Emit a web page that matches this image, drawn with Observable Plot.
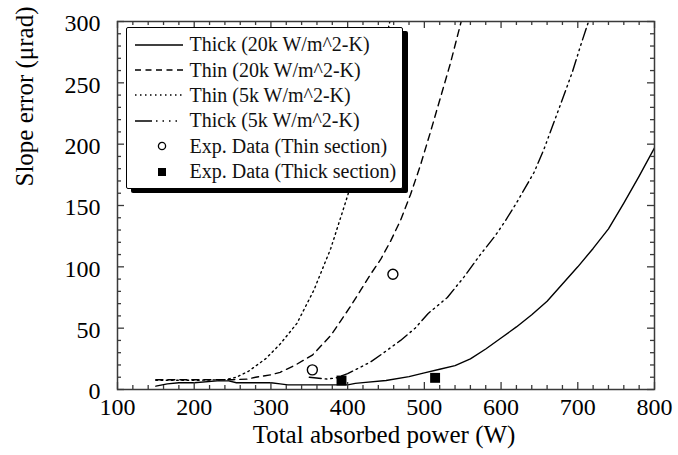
<!DOCTYPE html>
<html><head><meta charset="utf-8">
<script src="https://cdn.jsdelivr.net/npm/d3@7"></script>
<script src="https://cdn.jsdelivr.net/npm/@observablehq/plot@0.6"></script>
<style>
body{margin:0;background:#fff;}
#wrap{position:relative;width:678px;height:455px;font-family:"Liberation Serif","Times New Roman",serif;}
#legend{position:absolute;left:126px;top:27px;width:277px;height:162px;background:#fff;border:1.5px solid #000;box-shadow:5px 4px 0 #000;border-radius:2px;box-sizing:border-box;padding-top:4px;}
.row{display:flex;align-items:center;height:25.4px;font-size:20px;color:#111;white-space:nowrap;}
.row svg{margin-left:7.5px;margin-right:7px;flex:none;}
</style></head><body><div id="wrap"></div>
<script>
// ---- data ----
const thick20kX = [150,165,180,200,230,245,255,300,312,322,350,400,410,420,450,480,500,520,540,560,580,600,620,640,660,680,700,720,740,760,780,800];
const thick20kY = [2.7,4.6,5.5,5.5,7,7,5.5,5.5,4.6,3.8,3.8,3.8,5,5.6,7.3,10.5,13.5,16.5,19.5,25,33,42,51,61,72,86,100,115,131,152,174,197];

const thin20kX = [150,200,250,270,280,300,312,332,354,366,378,391,404,417,430,443,456,469,482,495,508,521,534,548];
const thin20kY = [8,8,8,8.5,10,12,14,20,28,36,44,56,68,81,94,106,121,138,159,183,210,238,266,300];

const thin5kX = [150,200,240,255,271,293,312,334,356,378,400,420,440,455];
const thin5kY = [7.5,7.5,8,10,15,25,37,54,81,115,158,205,258,300];

const thick5kX = [350,373,385,400,413,430,447,469,488,505,530,552,573,592,604,620,643,656,669,682,693,704,714];
const thick5kY = [10,8.5,9.5,13,17,22.5,30,40,50,62,75,92,110,125,136,152,177,196,218,240,259,281,300];

const expThinX = [354,459];
const expThinY = [16,94];
const expThickX = [392,514];
const expThickY = [7.3,9.5];

const xMajor = [100,200,300,400,500,600,700,800];
const yMajor = [0,50,100,150,200,250,300];
const xMinor = d3.range(100, 801, 20).filter(v => v % 100 !== 0);
const yMinor = d3.range(0, 301, 10).filter(v => v % 50 !== 0);

const seriesNames = ["Thick (20k W/m^2-K)","Thin (20k W/m^2-K)","Thin (5k W/m^2-K)","Thick (5k W/m^2-K)","Exp. Data (Thin section)","Exp. Data (Thick section)"];
const xTitle = "Total absorbed power (W)";
const yTitle = "Slope error (\u03bcrad)";

// ---- build ----
const pts = (xs, ys) => xs.map((x, i) => ({x, y: ys[i]}));
const W = 678, H = 455, mL = 117, mR = 24, mT = 21, mB = 66;
const innerH = H - mT - mB, innerW = W - mL - mR;
const frameColor = "#3a3a3a";
const dashes = {solid: null, dashed: "7,5", dotted: "1.6,3.6", dashdot: "12,4,1.6,4,1.6,4,1.6,4"};
const lineStyle = {stroke: "#000", strokeWidth: 1.4, clip: true};

function xt(values, len) {
  return [
    Plot.tickX(values, {x: d => d, stroke: frameColor, strokeWidth: 1.3, insetTop: innerH - len}),
    Plot.tickX(values, {x: d => d, stroke: frameColor, strokeWidth: 1.3, insetBottom: innerH - len})
  ];
}
function yt(values, len) {
  return [
    Plot.tickY(values, {y: d => d, stroke: frameColor, strokeWidth: 1.3, insetRight: innerW - len}),
    Plot.tickY(values, {y: d => d, stroke: frameColor, strokeWidth: 1.3, insetLeft: innerW - len})
  ];
}

const chart = Plot.plot({
  width: W, height: H,
  marginLeft: mL, marginRight: mR, marginTop: mT, marginBottom: mB,
  style: {fontFamily: "'Liberation Serif','Times New Roman',serif", fontSize: "24px", color: "#000", background: "#fff"},
  x: {domain: [100, 800]},
  y: {domain: [0, 300]},
  marks: [
    Plot.line(pts(thin5kX, thin5kY), {x: "x", y: "y", ...lineStyle, strokeDasharray: dashes.dotted}),
    Plot.line(pts(thin20kX, thin20kY), {x: "x", y: "y", ...lineStyle, strokeDasharray: dashes.dashed}),
    Plot.line(pts(thick5kX, thick5kY), {x: "x", y: "y", ...lineStyle, strokeDasharray: dashes.dashdot}),
    Plot.line(pts(thick20kX, thick20kY), {x: "x", y: "y", ...lineStyle}),
    Plot.dot(pts(expThinX, expThinY), {x: "x", y: "y", r: 5, stroke: "#000", strokeWidth: 1.4, fill: "#fff"}),
    Plot.dot(pts(expThickX, expThickY), {x: "x", y: "y", r: 5.6, symbol: "square", fill: "#000", stroke: "none"}),
    ...xt(xMajor, 7), ...xt(xMinor, 4),
    ...yt(yMajor, 7), ...yt(yMinor, 4),
    Plot.frame({stroke: frameColor, strokeWidth: 1.5}),
    Plot.axisX(xMajor, {tickSize: 0, tickPadding: 8, fontSize: 24, label: null, tickFormat: d => String(d), fill: "#000"}),
    Plot.axisY(yMajor, {tickSize: 0, tickPadding: 17, fontSize: 24, label: null, tickFormat: d => String(d), fill: "#000", dy: 2}),
    Plot.text([xTitle], {text: d => d, frameAnchor: "bottom", dx: -2, dy: 53, fontSize: 25, fill: "#000"}),
    Plot.text([yTitle], {text: d => d, frameAnchor: "left", rotate: -90, dx: -93, dy: -19, fontSize: 25, fill: "#000"})
  ]
});

const wrap = document.getElementById("wrap");
wrap.appendChild(chart);

// ---- legend (HTML overlay with white fill and drop shadow) ----
const legend = document.createElement("div");
legend.id = "legend";
const ns = "http://www.w3.org/2000/svg";
const legendSamples = [
  {type: "line", dash: null},
  {type: "line", dash: "6,4.5"},
  {type: "line", dash: "1.5,3.5"},
  {type: "line", dash: "17,4,1.5,5,1.5,5,1.5,5,1.5,10"},
  {type: "circle"},
  {type: "square"}
];
seriesNames.forEach((name, i) => {
  const row = document.createElement("div");
  row.className = "row";
  const svg = document.createElementNS(ns, "svg");
  svg.setAttribute("width", 48); svg.setAttribute("height", 12);
  const s = legendSamples[i];
  let el;
  if (s.type === "line") {
    el = document.createElementNS(ns, "line");
    el.setAttribute("x1", 0); el.setAttribute("x2", 48);
    el.setAttribute("y1", 6); el.setAttribute("y2", 6);
    el.setAttribute("stroke", "#000"); el.setAttribute("stroke-width", 1.4);
    if (s.dash) el.setAttribute("stroke-dasharray", s.dash);
  } else if (s.type === "circle") {
    el = document.createElementNS(ns, "circle");
    el.setAttribute("cx", 27); el.setAttribute("cy", 6); el.setAttribute("r", 3.6);
    el.setAttribute("fill", "#fff"); el.setAttribute("stroke", "#000"); el.setAttribute("stroke-width", 1.3);
  } else {
    el = document.createElementNS(ns, "rect");
    el.setAttribute("x", 23); el.setAttribute("y", 2); el.setAttribute("width", 8); el.setAttribute("height", 8);
    el.setAttribute("fill", "#000");
  }
  svg.appendChild(el);
  row.appendChild(svg);
  const t = document.createElement("span");
  t.textContent = name;
  row.appendChild(t);
  legend.appendChild(row);
});
wrap.appendChild(legend);
</script>
</body></html>
